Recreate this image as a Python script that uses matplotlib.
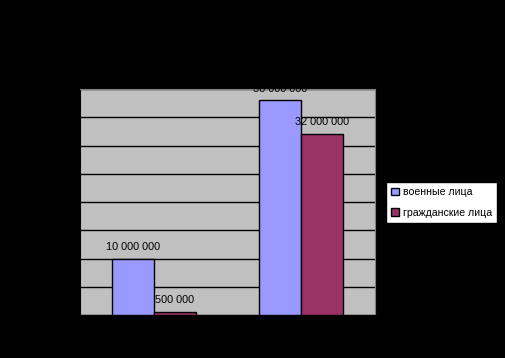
import numpy as np
import matplotlib.pyplot as plt

plt.rcParams['font.family'] = ['Liberation Sans', 'DejaVu Sans']

# данные
categories = ['Первая мировая война', 'Вторая мировая война']
military = [10000000, 38000000]
civilian = [500000, 32000000]
series_names = ['военные лица', 'гражданские лица']
value_labels_mil = ['10 000 000', '38 000 000']
value_labels_civ = ['500 000', '32 000 000']
y_ticks = np.arange(0, 40000001, 5000000)

fig = plt.figure(figsize=(5.06, 3.58), dpi=100, facecolor='black')
ax = fig.add_axes([80 / 506, 1 - 315 / 358, 295 / 506, 226 / 358])
ax.set_facecolor('#c0c0c0')

x = np.arange(len(categories)) + 0.5
w = 1 / 3.5
b1 = ax.bar(x - w / 2, military, w, color='#9999ff', edgecolor='black', linewidth=1, zorder=3)
b2 = ax.bar(x + w / 2, civilian, w, color='#993366', edgecolor='black', linewidth=1, zorder=3)

# подписи значений поверх столбцов
for rect, txt in zip(b1, value_labels_mil):
    ax.text(rect.get_x() + rect.get_width() / 2, rect.get_height() + 1200000, txt,
            ha='center', va='bottom', fontsize=7.8, color='black', clip_on=False, zorder=5)
for rect, txt in zip(b2, value_labels_civ):
    ax.text(rect.get_x() + rect.get_width() / 2, rect.get_height() + 1200000, txt,
            ha='center', va='bottom', fontsize=7.8, color='black', clip_on=False, zorder=5)

ax.set_xlim(0, 2)
ax.set_ylim(0, 40000000)
ax.set_yticks(y_ticks)
ax.set_yticklabels([f'{v:,}'.replace(',', ' ') for v in y_ticks], fontsize=7.8, color='black')
ax.set_xticks(x)
ax.set_xticklabels(categories, fontsize=7.8, color='black')
ax.yaxis.grid(True, color='black', linewidth=1, zorder=0)
ax.set_axisbelow(True)
ax.tick_params(length=0)
for s in ['top', 'right']:
    ax.spines[s].set_color('#808080')
for s in ['left', 'bottom']:
    ax.spines[s].set_color('black')

fig.text(0.5, 1 - 28 / 358, 'Соотношение потерь военных и гражданских лиц',
         ha='center', va='center', fontsize=10, fontweight='bold', color='black')
fig.text(0.5, 1 - 48 / 358, 'в Первой и Второй мировых войнах',
         ha='center', va='center', fontsize=10, fontweight='bold', color='black')

leg = fig.legend([b1, b2], series_names, loc='upper left',
                 bbox_to_anchor=(386 / 506, 1 - 182 / 358), fontsize=7.6,
                 frameon=True, fancybox=False, edgecolor='black', facecolor='white',
                 framealpha=1, handlelength=0.7, handleheight=0.7, handletextpad=0.4,
                 borderpad=0.5, labelspacing=1.0, borderaxespad=0)
leg.get_frame().set_linewidth(1)

fig.savefig('out.png', dpi=100, facecolor='black')
